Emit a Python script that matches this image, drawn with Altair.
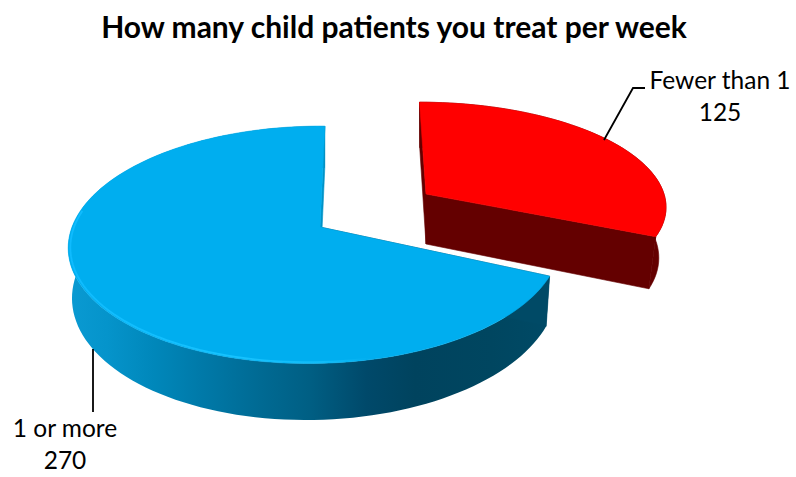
import math
import altair as alt
import pandas as pd

WIDTH, HEIGHT = 796, 477

# Survey counts, in drawing order (clockwise from twelve o'clock)
categories = ["Fewer than 1", "1 or more"]
counts = [125, 270]
chart_title = "How many child patients you treat per week"

# Projection of each wedge's tilted plane onto the page
LENS = {
    "Fewer than 1": dict(ax=426, ay=194, R=238, Rs=101, k=0.10, j=0.0, a=-0.03, depth=50, shrink=0.03),
    "1 or more": dict(ax=320, ay=227, R=243, Rs=116, k=0.15, j=0.02, a=0.023, depth=48, shrink=0.015),
}
STEP = 2.0


def project(lens, deg, radius=1.0, base=False):
    X = radius * math.cos(math.radians(deg))
    Y = radius * math.sin(math.radians(deg))
    w = 1 + lens["k"] * Y + lens["j"] * X
    scale = 1 - lens["shrink"] if base else 1
    px = lens["ax"] + lens["R"] * (X + lens["a"] * Y) / w * scale
    py = lens["ay"] - lens["Rs"] * Y / w + (lens["depth"] / w if base else 0)
    return px, py


def sweep(start, end):
    n = max(2, int(abs(end - start) / STEP))
    return [start + (end - start) * i / n for i in range(n + 1)]


def frame(points):
    return pd.DataFrame(
        [{"x": x, "y": y, "o": i} for i, (x, y) in enumerate(points)]
    )


x_scale = alt.Scale(domain=[0, WIDTH], range=[0, WIDTH])
y_scale = alt.Scale(domain=[0, HEIGHT], range=[0, HEIGHT])


def outline(points, **mark):
    return alt.Chart(frame(points)).mark_line(interpolate="linear", **mark).encode(
        x=alt.X("x:Q", scale=x_scale, axis=None),
        y=alt.Y("y:Q", scale=y_scale, axis=None),
        order="o:Q",
    )


def solid(points, color, edge=None, width=0.6):
    return outline(points + points[:1], fill=color, stroke=edge or color, strokeWidth=width)


def horizontal(stops):
    return alt.Gradient(
        gradient="linear", x1=0, x2=1, y1=0, y2=0,
        stops=[alt.GradientStop(offset=o, color=c) for o, c in stops],
    )


blue_side = horizontal([
    (0.00, "#0a9ad2"), (0.08, "#0594cb"), (0.18, "#0087ba"), (0.28, "#0079a8"),
    (0.40, "#006a93"), (0.50, "#005f84"), (0.62, "#00496a"), (0.72, "#00435e"),
    (0.88, "#004660"), (1.00, "#004a66"),
])
blue_rim = horizontal([
    (0.00, "#10bcff"), (0.55, "#18c4ff"), (0.85, "#12bcf8"), (1.00, "#00aeef"),
])

STYLE = {
    "Fewer than 1": dict(top="#ff0000", side="#640000", wall_start="#640000", wall_end="#640000"),
    "1 or more": dict(top="#00aeef", side=blue_side, wall_start="#004a66", wall_end="#0093c8"),
}

layers = []
total = sum(counts)
angle = 90.0
for name, count in zip(categories, counts):
    lens = LENS[name]
    style = STYLE[name]
    end = angle - 360.0 * count / total
    arc = sweep(angle, end)

    rim_top = [project(lens, d) for d in arc]
    rim_base = [project(lens, d, base=True) for d in arc]
    apex = project(lens, 0, 0.0)
    apex_base = project(lens, 0, 0.0, base=True)

    layers.append(solid(rim_top + rim_base[::-1], style["side"], edge="#00000000" if name == "1 or more" else None))
    layers.append(solid([rim_top[0], rim_base[0], apex_base, apex], style["wall_start"]))
    layers.append(solid([rim_top[-1], rim_base[-1], apex_base, apex], style["wall_end"]))
    layers.append(solid([apex] + rim_top, style["top"]))

    if name == "1 or more":
        highlight = [project(lens, d, 0.992) for d in sweep(172, 282)]
        layers.append(outline(highlight, stroke=blue_rim, strokeWidth=1.8, opacity=0.95))

    angle = end

# Leader lines from each wedge to its label
leaders = [
    [(604, 140), (633, 88), (645, 88)],
    [(93, 349), (93, 412)],
]
for path in leaders:
    layers.append(outline(path, stroke="#000000", strokeWidth=1.8))

# Category name above its count
label_rows = pd.DataFrame([
    {"x": 720, "y": 82, "text": categories[0]},
    {"x": 720, "y": 114, "text": str(counts[0])},
    {"x": 65, "y": 430, "text": categories[1]},
    {"x": 65, "y": 462, "text": str(counts[1])},
])
layers.append(
    alt.Chart(label_rows).mark_text(font="Lato", fontSize=24.5, color="#000000", baseline="middle").encode(
        x=alt.X("x:Q", scale=x_scale, axis=None),
        y=alt.Y("y:Q", scale=y_scale, axis=None),
        text="text:N",
    )
)
layers.append(
    alt.Chart(pd.DataFrame([{"x": 394, "y": 29, "text": chart_title}]))
    .mark_text(font="Lato", fontSize=30, fontWeight="bold", color="#000000", baseline="middle")
    .encode(
        x=alt.X("x:Q", scale=x_scale, axis=None),
        y=alt.Y("y:Q", scale=y_scale, axis=None),
        text="text:N",
    )
)

chart = (
    alt.layer(*layers)
    .properties(width=WIDTH, height=HEIGHT, padding=0, autosize=alt.AutoSizeParams(type="none"), background="white")
    .configure_view(stroke=None)
)

chart.save("out.html", embed_options={"renderer": "svg", "actions": False})
